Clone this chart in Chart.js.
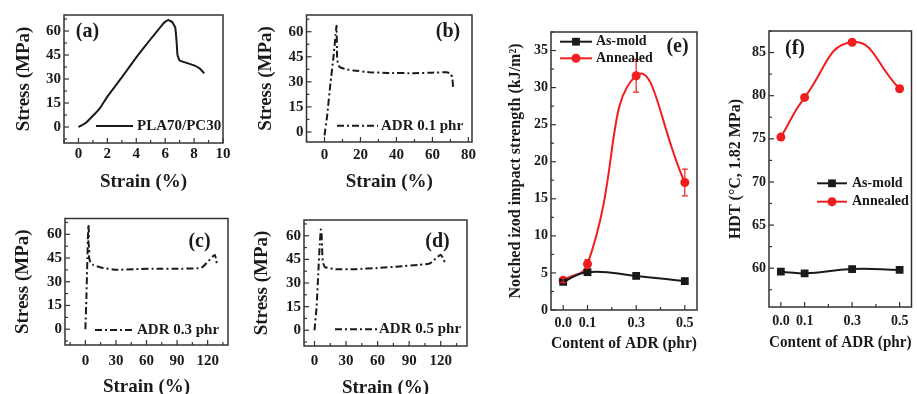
<!DOCTYPE html>
<html>
<head>
<meta charset="utf-8">
<script src="https://cdn.jsdelivr.net/npm/chart.js@4.4.1/dist/chart.umd.min.js"></script>
<style>
  html, body { margin: 0; padding: 0; background: #fff; overflow: hidden; }
  #wrap { position: relative; width: 917px; height: 394px; overflow: hidden; }
  #wrap canvas { position: absolute; }
</style>
</head>
<body>
<div id="wrap"></div>
<script>
// ---- data ----
const strainA = [0, 0.5, 1, 1.5, 2, 3, 4, 5, 5.5, 5.9, 6.2, 6.5, 6.7, 6.8, 6.85, 7, 7.5, 8, 8.4, 8.7];
const stressA = [0, 2.5, 7, 12, 19, 31, 43.5, 55, 60.5, 65, 66.8, 65.5, 62, 52, 45, 41.5, 40, 38.5, 36.5, 33.5];

const strainB = [0, 1.5, 3.3, 5, 6, 6.7, 7, 7.5, 8.5, 12, 16, 25, 35, 50, 60, 68, 70, 71, 71.5];
const stressB = [-2, 10, 29, 45, 56, 63.5, 45, 40.5, 38.8, 37.5, 36.8, 35.8, 35.3, 35.2, 35.5, 35.8, 35, 32.8, 26.6];

const strainC = [0, 1, 2, 2.5, 3, 3.5, 3, 4, 3.5, 5, 8, 15, 30, 50, 70, 90, 110, 115, 120, 125, 127, 128.5, 129];
const stressC = [0, 20, 45, 58, 66, 60, 55, 50, 46, 42, 40.5, 39, 37.6, 38, 38.3, 38.2, 38.5, 39.3, 42.5, 46, 47, 44, 41];

const strainD = [0, 2, 3.5, 5, 6, 6.8, 7.3, 8, 10, 20, 40, 60, 80, 100, 110, 116, 120, 122, 124];
const stressD = [0, 15, 35, 55, 64, 60, 50, 43, 40, 38.8, 38.8, 39.5, 40.5, 41.5, 42.5, 46, 48, 46, 43];

const adrContent = [0.0, 0.1, 0.3, 0.5];
const impactAsMold = [3.8, 5.1, 4.6, 3.9];
const impactAsMoldErr = [0.3, 0.4, 0.3, 0.3];
const impactAnnealed = [4.0, 6.2, 31.6, 17.2];
const impactAnnealedErr = [0.3, 0.6, 2.2, 1.8];
const hdtAsMold = [59.6, 59.4, 59.9, 59.8];
const hdtAnnealed = [75.2, 79.8, 86.2, 80.8];

const stressTicks = [0, 15, 30, 45, 60];
const strainTicksA = [0, 2, 4, 6, 8, 10];
const strainTicksB = [0, 20, 40, 60, 80];
const strainTicksCD = [0, 30, 60, 90, 120];
const adrTicks = [0.0, 0.1, 0.3, 0.5];
const impactTicks = [0, 5, 10, 15, 20, 25, 30, 35];
const hdtTicks = [60, 65, 70, 75, 80, 85];

// ---- helpers ----
const FONT = "'Liberation Serif', 'Times New Roman', serif";
const INK = "#1a1a1a";
const RED = "#f01e1e";
const pts = (xs, ys) => xs.map((x, i) => ({ x, y: ys[i] }));

// box frame + inward major/minor ticks
const frameTicks = {
  id: "frameTicks",
  afterDraw(chart, args, opts) {
    const { ctx, chartArea: a } = chart;
    ctx.save();
    ctx.strokeStyle = "#333";
    ctx.lineWidth = 1.5;
    ctx.strokeRect(a.left, a.top, a.right - a.left, a.bottom - a.top);
    ctx.lineWidth = 1.2;
    const mark = (s, v, len) => {
      const p = s.getPixelForValue(v);
      ctx.beginPath();
      if (s.isHorizontal()) { ctx.moveTo(p, a.bottom); ctx.lineTo(p, a.bottom - len); }
      else { ctx.moveTo(a.left, p); ctx.lineTo(a.left + len, p); }
      ctx.stroke();
    };
    ["x", "y"].forEach(id => {
      const s = chart.scales[id];
      const major = s.ticks.map(t => t.value);
      major.forEach(v => mark(s, v, 5));
      const step = opts[id + "Minor"];
      if (!step) return;
      for (let k = Math.ceil(s.min / step); k * step <= s.max + 1e-9; k++) {
        const v = k * step;
        if (!major.some(m => Math.abs(m - v) < step / 100)) mark(s, v, 3);
      }
    });
    ctx.restore();
  }
};

// error bars from dataset.errors
const errorBars = {
  id: "errorBars",
  afterDatasetsDraw(chart) {
    const { ctx, scales } = chart;
    chart.data.datasets.forEach(ds => {
      if (!ds.errors) return;
      ctx.save();
      ctx.strokeStyle = ds.borderColor;
      ctx.lineWidth = 1.2;
      ds.data.forEach((p, i) => {
        const e = ds.errors[i];
        const x = scales.x.getPixelForValue(p.x);
        const y1 = scales.y.getPixelForValue(p.y - e);
        const y2 = scales.y.getPixelForValue(p.y + e);
        ctx.beginPath();
        ctx.moveTo(x, y1); ctx.lineTo(x, y2);
        ctx.moveTo(x - 3, y1); ctx.lineTo(x + 3, y1);
        ctx.moveTo(x - 3, y2); ctx.lineTo(x + 3, y2);
        ctx.stroke();
      });
      ctx.restore();
    });
  }
};

// legend keys inside the plot + panel tag
const keyLegend = {
  id: "keyLegend",
  afterDraw(chart, args, opts) {
    const ctx = chart.ctx;
    ctx.save();
    ctx.textBaseline = "middle";
    ctx.font = `bold ${opts.size}px ${FONT}`;
    (opts.items || []).forEach(it => {
      const ds = chart.data.datasets[it.ds];
      ctx.strokeStyle = ds.borderColor;
      ctx.lineWidth = ds.borderWidth;
      ctx.setLineDash(ds.borderDash || []);
      ctx.beginPath();
      ctx.moveTo(it.x, it.y); ctx.lineTo(it.x + opts.len, it.y);
      ctx.stroke();
      ctx.setLineDash([]);
      if (ds.pointRadius) {
        const cx = it.x + opts.len / 2;
        ctx.fillStyle = ds.pointBackgroundColor;
        ctx.beginPath();
        if (ds.pointStyle === "rect") {
          const h = ds.pointRadius * Math.SQRT1_2;
          ctx.rect(cx - h, it.y - h, 2 * h, 2 * h);
        } else {
          ctx.arc(cx, it.y, ds.pointRadius, 0, Math.PI * 2);
        }
        ctx.fill();
      }
      ctx.fillStyle = INK;
      ctx.textAlign = "left";
      ctx.fillText(ds.label, it.x + opts.len + opts.gap, it.y);
    });
    if (opts.tag) {
      ctx.font = `bold ${opts.tag.size}px ${FONT}`;
      ctx.fillStyle = INK;
      ctx.textAlign = "center";
      ctx.fillText(opts.tag.text, opts.tag.x, opts.tag.y);
    }
    ctx.restore();
  }
};

function axis(c, box, ax, horizontal) {
  return {
    type: "linear",
    min: ax.min,
    max: ax.max,
    afterBuildTicks: s => { s.ticks = ax.ticks.map(v => ({ value: v })); },
    afterFit: s => {
      if (horizontal) s.height = c.top + c.h - box.b;
      else s.width = box.l - c.left;
      s.paddingLeft = s.paddingRight = s.paddingTop = s.paddingBottom = 0;
    },
    grid: { display: false, drawTicks: false },
    border: { display: false },
    ticks: {
      color: INK,
      font: { family: FONT, size: ax.tickSize, weight: "bold" },
      padding: ax.tickPad,
      callback: ax.fmt || (v => String(v))
    },
    title: {
      display: true,
      text: ax.title,
      color: INK,
      font: { family: FONT, size: ax.titleSize, weight: "bold" },
      padding: horizontal ? { top: 0, bottom: ax.titlePad } : { top: ax.titlePad, bottom: 0 }
    }
  };
}

function panel(p) {
  const { c, box } = p;
  const cv = document.createElement("canvas");
  cv.width = c.w; cv.height = c.h;
  cv.style.left = c.left + "px";
  cv.style.top = c.top + "px";
  document.getElementById("wrap").appendChild(cv);
  return new Chart(cv, {
    type: "line",
    data: { datasets: p.datasets },
    options: {
      responsive: false,
      animation: false,
      events: [],
      layout: { padding: { top: box.t - c.top, right: c.left + c.w - box.r, left: 0, bottom: 0 } },
      plugins: {
        legend: { display: false },
        tooltip: { enabled: false },
        frameTicks: { xMinor: p.x.minor, yMinor: p.y.minor },
        keyLegend: p.legend
      },
      scales: { x: axis(c, box, p.x, true), y: axis(c, box, p.y, false) }
    },
    plugins: [frameTicks, errorBars, keyLegend]
  });
}

const strainLine = (label, xs, ys, dash) => ({
  label, data: pts(xs, ys), borderColor: INK, borderWidth: 2,
  borderDash: dash, pointRadius: 0, tension: 0.1, fill: false
});
const DASHDOT = [7, 3, 2, 3];
const stressAxis = (min, pad) => ({
  min, max: 70, ticks: stressTicks, minor: 7.5, tickSize: 15, tickPad: 3,
  title: "Stress (MPa)", titleSize: 19, titlePad: pad
});

// (a)
panel({
  c: { left: 0, top: 0, w: 236, h: 195 }, box: { l: 64, t: 15, r: 223, b: 143 },
  datasets: [strainLine("PLA70/PC30", strainA, stressA, [])],
  x: { min: -1, max: 10, ticks: strainTicksA, minor: 1, tickSize: 15, tickPad: 2, title: "Strain (%)", titleSize: 19, titlePad: 1.6 },
  y: stressAxis(-10, 12.6),
  legend: { size: 15, len: 37, gap: 4, items: [{ ds: 0, x: 96, y: 126 }], tag: { text: "(a)", size: 20, x: 87.5, y: 32 } }
});

// (b)
panel({
  c: { left: 236, top: 0, w: 244, h: 195 }, box: { l: 306.5, t: 15, r: 472, b: 142 },
  datasets: [strainLine("ADR 0.1 phr", strainB, stressB, DASHDOT)],
  x: { min: -10, max: 82, ticks: strainTicksB, minor: 10, tickSize: 15, tickPad: 4, title: "Strain (%)", titleSize: 19, titlePad: 1.9 },
  y: stressAxis(-6, 18.4),
  legend: { size: 15, len: 41, gap: 3, items: [{ ds: 0, x: 101, y: 125.7 }], tag: { text: "(b)", size: 20, x: 212, y: 32 } }
});

// (c)
panel({
  c: { left: 0, top: 195, w: 236, h: 215 }, box: { l: 65, t: 218.5, r: 228, b: 345 },
  datasets: [strainLine("ADR 0.3 phr", strainC, stressC, DASHDOT)],
  x: { min: -20, max: 140, ticks: strainTicksCD, minor: 15, tickSize: 15, tickPad: 7, title: "Strain (%)", titleSize: 19, titlePad: 11.9 },
  y: stressAxis(-10, 11.9),
  legend: { size: 15, len: 40, gap: 2, items: [{ ds: 0, x: 95, y: 135 }], tag: { text: "(c)", size: 20, x: 199.5, y: 47 } }
});

// (d)
panel({
  c: { left: 236, top: 195, w: 244, h: 215 }, box: { l: 304, t: 220, r: 467, b: 346 },
  datasets: [strainLine("ADR 0.5 phr", strainD, stressD, DASHDOT)],
  x: { min: -10, max: 145, ticks: strainTicksCD, minor: 15, tickSize: 15, tickPad: 6.5, title: "Strain (%)", titleSize: 19, titlePad: 10.3 },
  y: stressAxis(-10, 14.3),
  legend: { size: 15, len: 42, gap: 2, items: [{ ds: 0, x: 99, y: 134.3 }], tag: { text: "(d)", size: 20, x: 201.5, y: 47 } }
});

const adrAxis = pad => ({
  min: -0.05, max: 0.55, ticks: adrTicks, minor: 0.1, tickSize: 14, tickPad: pad,
  fmt: v => v.toFixed(1), title: "Content of ADR (phr)", titleSize: 16
});
const asMoldSet = ys => ({
  label: "As-mold", data: pts(adrContent, ys), borderColor: INK, borderWidth: 2,
  pointStyle: "rect", pointRadius: 5.5, pointBackgroundColor: INK, pointBorderWidth: 0,
  tension: 0.45, fill: false
});
const annealedSet = ys => ({
  label: "Annealed", data: pts(adrContent, ys), borderColor: RED, borderWidth: 2,
  pointStyle: "circle", pointRadius: 4.5, pointBackgroundColor: RED, pointBorderWidth: 0,
  tension: 0.5, fill: false
});

// (e)
const eAsMold = asMoldSet(impactAsMold);
eAsMold.errors = impactAsMoldErr;
const eAnnealed = annealedSet(impactAnnealed);
eAnnealed.errors = impactAnnealedErr;
panel({
  c: { left: 478, top: 0, w: 227, h: 394 }, box: { l: 551, t: 32, r: 697, b: 310 },
  datasets: [eAsMold, eAnnealed],
  x: Object.assign(adrAxis(5), { titlePad: 40.5 }),
  y: { min: 0, max: 37.5, ticks: impactTicks, minor: 2.5, tickSize: 14, tickPad: 3,
       title: "Notched izod impact strength (kJ/m\u00b2)", titleSize: 16, titlePad: 28.4 },
  legend: { size: 14, len: 32, gap: 4, items: [{ ds: 0, x: 82, y: 41.7 }, { ds: 1, x: 82, y: 58.3 }],
            tag: { text: "(e)", size: 20, x: 199.5, y: 47 } }
});

// (f)
panel({
  c: { left: 705, top: 0, w: 212, h: 394 }, box: { l: 769, t: 31, r: 913, b: 307 },
  datasets: [asMoldSet(hdtAsMold), annealedSet(hdtAnnealed)],
  x: Object.assign(adrAxis(6.3), { titlePad: 42 }),
  y: { min: 55.5, max: 87.5, ticks: hdtTicks, minor: 2.5, tickSize: 14, tickPad: 3,
       title: "HDT (\u00b0C, 1.82 MPa)", titleSize: 16, titlePad: 21.4 },
  legend: { size: 14, len: 30, gap: 5, items: [{ ds: 0, x: 112, y: 183.3 }, { ds: 1, x: 112, y: 201.7 }],
            tag: { text: "(f)", size: 20, x: 90, y: 48.5 } }
});
</script>
</body>
</html>
